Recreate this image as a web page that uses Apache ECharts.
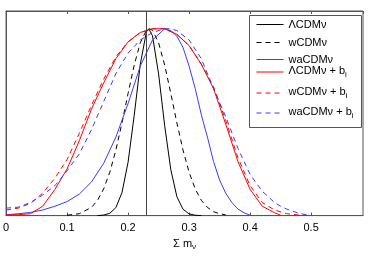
<!DOCTYPE html>
<html><head><meta charset="utf-8">
<script src="https://cdn.jsdelivr.net/npm/echarts@6/dist/echarts.min.js"></script>
<style>html,body{margin:0;padding:0;background:#fff}#c{width:370px;height:256px}</style>
</head><body><div id="c"></div>
<script>
// x positions (Σ m_ν) and normalised posterior values
var xLcdm = [0.15,0.16,0.17,0.18,0.19,0.20,0.21,0.22,0.23,0.234,0.24,0.25,0.26,0.27,0.28,0.29,0.30,0.31,0.32];
var yLcdm = [0,0.003,0.012,0.043,0.123,0.286,0.536,0.81,0.983,1.0,0.962,0.758,0.481,0.246,0.101,0.034,0.009,0.002,0];

var xWcdm = [0.10,0.12,0.14,0.15,0.16,0.17,0.18,0.19,0.20,0.21,0.22,0.23,0.235,0.24,0.25,0.26,0.27,0.28,0.29,0.30,0.31,0.32,0.33,0.34,0.35,0.36];
var yWcdm = [0.002,0.010,0.044,0.082,0.143,0.232,0.351,0.496,0.654,0.805,0.925,0.992,1.0,0.992,0.925,0.805,0.654,0.496,0.351,0.232,0.143,0.082,0.044,0.021,0.010,0.004];

var xWacdm = [0,0.02,0.04,0.06,0.08,0.10,0.12,0.14,0.16,0.18,0.20,0.22,0.24,0.26,0.27,0.28,0.29,0.30,0.31,0.32,0.33,0.34,0.35,0.36,0.37,0.38,0.39,0.40];
var yWacdm = [0.004,0.01,0.017,0.03,0.05,0.075,0.115,0.18,0.28,0.42,0.6,0.8,0.94,1.0,0.99,0.96,0.9,0.8,0.68,0.54,0.42,0.29,0.19,0.12,0.07,0.035,0.015,0.002];

var xLcdmB = [0,0.02,0.04,0.06,0.08,0.10,0.12,0.14,0.16,0.18,0.20,0.22,0.24,0.26,0.28,0.30,0.32,0.34,0.36,0.38,0.40,0.42,0.44,0.45];
var yLcdmB = [0.004,0.005,0.01,0.05,0.14,0.25,0.40,0.57,0.71,0.84,0.93,0.98,1.0,1.0,0.97,0.91,0.81,0.68,0.49,0.29,0.14,0.05,0.015,0.002];

var xWcdmB = [0,0.02,0.04,0.06,0.08,0.10,0.12,0.14,0.16,0.18,0.20,0.22,0.24,0.26,0.28,0.30,0.32,0.34,0.36,0.38,0.40,0.42,0.44,0.46,0.48,0.49];
var yWcdmB = [0.03,0.04,0.065,0.12,0.20,0.30,0.44,0.59,0.73,0.85,0.93,0.98,1.0,1.0,0.97,0.91,0.81,0.69,0.51,0.31,0.16,0.07,0.03,0.01,0.003,0];

var xWacdmB = [0,0.02,0.04,0.06,0.08,0.10,0.12,0.14,0.16,0.18,0.20,0.22,0.24,0.26,0.27,0.28,0.30,0.32,0.34,0.36,0.38,0.40,0.42,0.44,0.45,0.46,0.48,0.50];
var yWacdmB = [0.04,0.045,0.07,0.11,0.16,0.24,0.33,0.46,0.61,0.76,0.87,0.94,0.98,1.0,1.0,0.99,0.94,0.84,0.68,0.53,0.36,0.22,0.13,0.07,0.05,0.035,0.012,0];

var vline = 0.234;
var xTicks = ['0','0.1','0.2','0.3','0.4','0.5'];

var names = ['ΛCDMν','wCDMν','waCDMν','ΛCDMν + b_i','wCDMν + b_i','waCDMν + b_i'];
var xs = [xLcdm,xWcdm,xWacdm,xLcdmB,xWcdmB,xWacdmB];
var ys = [yLcdm,yWcdm,yWacdm,yLcdmB,yWcdmB,yWacdmB];
var colors = ['#000000','#000000','#3a3aff','#ff0000','#ff0000','#3a3aff'];
var dashed = [false,true,false,false,true,true];

function pairs(x,y){return x.map(function(v,i){return [v,y[i]];});}

var series = names.map(function(n,i){
  var s = {name:n,type:'line',data:pairs(xs[i],ys[i]),symbol:'none',smooth:false,
    lineStyle:{color:colors[i],width:1,type:dashed[i]?[5,4]:'solid'},itemStyle:{color:colors[i]},
    z:3,animation:false};
  if(i===0){
    s.markLine={silent:true,symbol:'none',label:{show:false},animation:false,
      lineStyle:{color:'#444',width:1,type:'solid'},data:[{xAxis:vline}]};
  }
  return s;
});

var font = 'Liberation Sans, Arial, sans-serif';
var lineY = [25,43,60,76,97,117];
var legends = names.map(function(n,i){
  var sub = n.indexOf('_i')>=0;
  return {data:[n],orient:'vertical',left:256,top: sub ? lineY[i]-11 : lineY[i]-6,padding:0,z:20,
    itemWidth:27,itemHeight:10,selectedMode:false,
    itemStyle:{opacity:0},
    lineStyle:{width:1,color:colors[i],type:dashed[i]?[5,4]:'solid'},
    formatter:function(name){
      if(name.indexOf('_i')>=0){return '{a|'+name.replace('_i','')+'}{s|i}';}
      return '{p|'+name+'}';
    },
    textStyle:{color:'#000',fontSize:11,fontFamily:font,
      rich:{p:{fontSize:11,lineHeight:12},a:{fontSize:11,lineHeight:12,verticalAlign:'top'},
            s:{fontSize:8,lineHeight:14,verticalAlign:'bottom'}}}};
});

var chart = echarts.init(document.getElementById('c'),null,{renderer:'canvas'});
chart.setOption({
  animation:false,
  backgroundColor:'#fff',
  grid:{left:4,right:7,top:11,bottom:35,show:true,borderColor:'#555',borderWidth:1,backgroundColor:'transparent'},
  xAxis:[{type:'value',min:0,max:0.585,interval:0.1,position:'bottom',
    name:'{a|Σ m}{s|ν}',nameLocation:'middle',nameGap:14,
    nameTextStyle:{color:'#000',fontFamily:font,rich:{a:{fontSize:11,color:'#000',lineHeight:12},s:{fontSize:8,color:'#000',lineHeight:14,verticalAlign:'bottom'}}},
    axisLine:{show:true,lineStyle:{color:'#555'}},
    axisTick:{show:true,inside:true,length:3,lineStyle:{color:'#555'}},
    splitLine:{show:false},
    axisLabel:{color:'#000',fontSize:11,fontFamily:font,margin:7,showMaxLabel:false,
      formatter:function(v){var k=Math.round(v*10);return xTicks[k]!==undefined?xTicks[k]:'';}}},
   {type:'value',min:0,max:0.585,interval:0.1,position:'top',
    axisLine:{show:true,lineStyle:{color:'#555'}},
    axisTick:{show:true,inside:true,length:3,lineStyle:{color:'#555'}},
    axisLabel:{show:false},splitLine:{show:false}}],
  yAxis:{type:'value',min:0,max:1.095,axisLine:{show:true,lineStyle:{color:'#555'}},axisTick:{show:false},axisLabel:{show:false},splitLine:{show:false}},
  legend:legends,
  graphic:[{type:'rect',left:249,top:15,z:1,shape:{width:112,height:112},style:{fill:'#fff',stroke:'#555',lineWidth:1},silent:true}],
  series:series
});
</script></body></html>
